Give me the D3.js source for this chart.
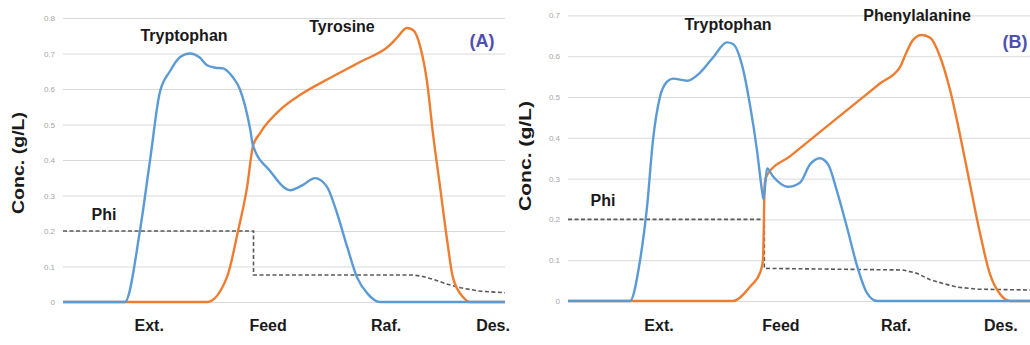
<!DOCTYPE html>
<html>
<head>
<meta charset="utf-8">
<script src="https://cdn.jsdelivr.net/npm/d3@7"></script>
<style>
  body { margin: 0; background: #fff; }
  svg { display: block; }
  .grid line { stroke: #d9d9d9; stroke-width: 1; }
  .grid text { fill: #a6a6a6; font-size: 8px; font-family: "Liberation Sans", Arial, sans-serif; }
  .lbl { font-family: "Liberation Sans", Arial, sans-serif; font-weight: bold; fill: #1a1a1a; }
</style>
</head>
<body>
<div id="chart"></div>
<script>
// section labels along the column
var sectionLabels = ['Ext.', 'Feed', 'Raf.', 'Des.'];
var sectionPosA = [19.5, 46.4, 73.1, 97.3];
var sectionPosB = [19.7, 46.1, 71.0, 93.7];

var yTicksA = [0, 0.1, 0.2, 0.3, 0.4, 0.5, 0.6, 0.7, 0.8];
var yTicksB = [0, 0.1, 0.2, 0.3, 0.4, 0.5, 0.6, 0.7];

// (A) tryptophan / tyrosine, position 0-100 along the unit
var trpA = [[0, 0], [14.0, 0], [17.4, 0.2], [19.7, 0.4], [21.9, 0.59], [24.2, 0.65], [26.5, 0.69],
  [28.7, 0.70], [30.8, 0.69], [32.6, 0.667], [34.5, 0.66], [36.2, 0.658], [38.3, 0.635],
  [40.0, 0.60], [42.3, 0.49], [43.0, 0.44], [46.8, 0.37], [51.4, 0.315], [54.3, 0.33],
  [57.0, 0.349], [59.7, 0.325], [62.0, 0.25], [64.3, 0.155], [66.5, 0.07], [68.8, 0.025],
  [71.7, 0], [100, 0]];
var tyrA = [[0, 0], [32.6, 0], [37.1, 0.07], [39.6, 0.2], [41.6, 0.32], [43.0, 0.44],
  [44.6, 0.476], [49.1, 0.541], [53.6, 0.583], [60.4, 0.631], [67.2, 0.676], [74.0, 0.724],
  [75.6, 0.745], [77.8, 0.772], [79.2, 0.766], [80.8, 0.72], [82.4, 0.617], [83.7, 0.475],
  [85.3, 0.325], [86.9, 0.175], [88.2, 0.07], [90.5, 0.014], [92.1, 0], [100, 0]];
var phiA = [[0, 0.2], [43.1, 0.2], [43.1, 0.076], [79.2, 0.076], [81, 0.073], [84, 0.063],
  [87, 0.05], [90, 0.04], [94, 0.031], [100, 0.026]];

// (B) tryptophan / phenylalanine
var trpB = [[0, 0], [13.4, 0], [15.6, 0.1], [17.1, 0.23], [18.4, 0.395], [19.9, 0.5],
  [21.4, 0.537], [22.7, 0.545], [25.8, 0.54], [28.6, 0.56], [31.4, 0.597], [34.4, 0.634],
  [35.7, 0.63], [37.7, 0.577], [39.4, 0.48], [40.9, 0.37], [42.0, 0.27], [42.3, 0.25],
  [43.1, 0.325], [44.4, 0.305], [47.6, 0.28], [50.2, 0.29], [52.4, 0.335], [54.5, 0.35],
  [56.3, 0.335], [58.2, 0.27], [60.4, 0.18], [62.6, 0.085], [64.7, 0.02], [66.9, 0], [100, 0]];
var pheB = [[0, 0], [35.7, 0], [39.4, 0.035], [41.6, 0.07], [42.2, 0.1], [42.6, 0.29],
  [43.1, 0.309], [48.1, 0.355], [54.5, 0.414], [62.6, 0.488], [67.5, 0.533], [71.9, 0.574],
  [72.9, 0.6], [74.7, 0.64], [76.6, 0.652], [78.4, 0.645], [80.5, 0.6], [82.7, 0.517],
  [84.8, 0.41], [87.0, 0.287], [89.2, 0.165], [91.3, 0.067], [93.5, 0.017], [95.7, 0], [100, 0]];
var phiB = [[0, 0.2], [42.5, 0.2], [42.5, 0.08], [72.5, 0.076], [75.5, 0.068], [78.4, 0.052],
  [81.5, 0.042], [84.2, 0.034], [88.5, 0.029], [100, 0.027]];

var svgWidth = 1030;
var svgHeight = 345;

var svg = d3.select('#chart')
  .append('svg')
  .attr('width', svgWidth)
  .attr('height', svgHeight);

svg.append('rect')
  .attr('width', svgWidth)
  .attr('height', svgHeight)
  .attr('fill', '#fff');

function drawPanel(p) {
  var x = d3.scaleLinear().domain([0, 100]).range([p.x0, p.x1]);
  var y = d3.scaleLinear().domain([0, p.yMax]).range([p.yBottom, p.yTop]);

  // gridlines + tick labels
  svg.append('g')
    .attr('class', 'grid')
    .attr('transform', `translate(${p.x0},0)`)
    .call(d3.axisLeft(y)
      .tickValues(p.yTicks)
      .tickSize(-(p.x1 - p.x0))
      .tickPadding(8)
      .tickFormat(d3.format('')))
    .call(g => g.select('.domain').remove());

  var line = d3.line()
    .x(d => x(d[0]))
    .y(d => y(d[1]))
    .curve(d3.curveMonotoneX);

  var phiLine = d3.line()
    .x(d => x(d[0]))
    .y(d => y(d[1]));

  svg.append('path')
    .datum(p.phi)
    .attr('d', phiLine)
    .attr('fill', 'none')
    .attr('stroke', '#595959')
    .attr('stroke-width', 1.6)
    .attr('stroke-dasharray', '4,2.5');

  svg.append('path')
    .datum(p.second)
    .attr('d', line)
    .attr('fill', 'none')
    .attr('stroke', '#ed7d31')
    .attr('stroke-width', 2.4);

  svg.append('path')
    .datum(p.trp)
    .attr('d', line)
    .attr('fill', 'none')
    .attr('stroke', '#5b9bd5')
    .attr('stroke-width', 2.4);

  // section labels under the axis
  svg.selectAll(null)
    .data(sectionLabels)
    .enter()
    .append('text')
    .attr('class', 'lbl')
    .attr('x', (d, i) => x(p.sectionPos[i]))
    .attr('y', 331)
    .attr('text-anchor', 'middle')
    .attr('font-size', 16)
    .text(d => d);

  // axis title
  svg.append('text')
    .attr('class', 'lbl')
    .attr('transform', `translate(${p.titleX},${p.titleY}) rotate(-90)`)
    .attr('text-anchor', 'middle')
    .attr('font-size', 16)
    .attr('textLength', p.titleLen)
    .attr('lengthAdjust', 'spacingAndGlyphs')
    .text('Conc. (g/L)');

  // annotations
  p.notes.forEach(function (n) {
    svg.append('text')
      .attr('class', 'lbl')
      .attr('x', n.x)
      .attr('y', n.y)
      .attr('text-anchor', 'middle')
      .attr('font-size', n.size || 16)
      .style('fill', n.color || '#1a1a1a')
      .text(n.text);
  });
}

drawPanel({
  x0: 63, x1: 505, yTop: 18, yBottom: 302, yMax: 0.8,
  yTicks: yTicksA, sectionPos: sectionPosA,
  trp: trpA, second: tyrA, phi: phiA,
  titleX: 24, titleY: 163, titleLen: 102,
  notes: [
    { text: 'Tryptophan', x: 184, y: 41 },
    { text: 'Tyrosine', x: 342, y: 32 },
    { text: 'Phi', x: 104, y: 220 },
    { text: '(A)', x: 482, y: 47, size: 18, color: '#4f4fb0' }
  ]
});

drawPanel({
  x0: 568, x1: 1030, yTop: 15.4, yBottom: 301, yMax: 0.7,
  yTicks: yTicksB, sectionPos: sectionPosB,
  trp: trpB, second: pheB, phi: phiB,
  titleX: 531, titleY: 156, titleLen: 110,
  notes: [
    { text: 'Tryptophan', x: 728, y: 30 },
    { text: 'Phenylalanine', x: 917, y: 21 },
    { text: 'Phi', x: 603, y: 206 },
    { text: '(B)', x: 1015, y: 48, size: 18, color: '#4f4fb0' }
  ]
});
</script>
</body>
</html>
